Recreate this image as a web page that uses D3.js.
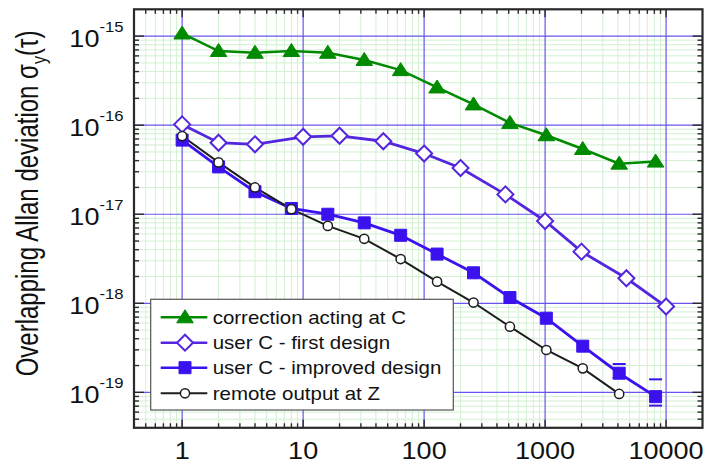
<!DOCTYPE html>
<html><head><meta charset="utf-8">
<script src="https://cdn.jsdelivr.net/npm/d3@7"></script>
<style>body{margin:0;background:#fff} svg{display:block}</style>
</head><body><svg id="c" width="705" height="464"></svg>
<script>
// ---- data ----
const tauPow2 = [1,2,4,8,16,32,64,128,256,512,1024,2048,4096,8192];
const correctionC = [1.07e-15,6.8e-16,6.5e-16,6.8e-16,6.5e-16,5.4e-16,4.15e-16,2.65e-16,1.71e-16,1.06e-16,7.7e-17,5.4e-17,3.7e-17,3.9e-17];
const tauFirst = [1,2,4,10,20,46,100,200,470,1000,2000,4700,10000];
const userCFirst = [1.02e-16,6.35e-17,6.1e-17,7.4e-17,7.6e-17,6.6e-17,4.8e-17,3.3e-17,1.67e-17,8.4e-18,3.8e-18,1.91e-18,9.2e-19];
const userCImproved = [6.8e-17,3.4e-17,1.79e-17,1.16e-17,1.0e-17,8.0e-18,5.8e-18,3.57e-18,2.2e-18,1.16e-18,6.8e-19,3.3e-19,1.64e-19,8.95e-20];
const tauRemote = [1,2,4,8,16,32,64,128,256,512,1024,2048,4096];
const remoteZ = [7.55e-17,3.82e-17,2.0e-17,1.14e-17,7.4e-18,5.3e-18,3.14e-18,1.75e-18,1.02e-18,5.46e-19,2.99e-19,1.86e-19,9.6e-20];
const errTau = [4096,8192];
const errHigh = [2.08e-19,1.4e-19];
const errLow = [1.45e-19,7.1e-20];
const xTickLabels = ["1","10","100","1000","10000"];
const xTickValues = [1,10,100,1000,10000];
const yTickExps = ["-15","-16","-17","-18","-19"];
const yTickValues = [1e-15,1e-16,1e-17,1e-18,1e-19];
const legendLabels = ["correction acting at C","user C - first design","user C - improved design","remote output at Z"];

// ---- layout ----
const svg = d3.select("#c");
const L = 134, R = 702.5, T = 9.3, B = 427.8;
const x = d3.scaleLog().domain([0.4, 20000]).range([L, R]);
const y = d3.scaleLog().domain([4e-20, 2e-15]).range([B, T]);

const GREEN = "#008a00", BLUE = "#3b12ee", DIAM = "#5426de", BLACK = "#1e1e1e";

// minor grid
function minors(lo, hi){
  const out = [];
  for (let e = -21; e <= 5; e++) for (let k = 2; k <= 9; k++){
    const v = k * Math.pow(10, e);
    if (v > lo*1.0001 && v < hi*0.9999) out.push(v);
  }
  return out;
}
const xMinor = minors(0.4, 20000), yMinor = minors(4e-20, 2e-15);
const g = svg.append("g");
g.selectAll(".vm").data(xMinor).join("line")
  .attr("x1", d=>x(d)).attr("x2", d=>x(d)).attr("y1", T).attr("y2", B)
  .attr("stroke", "#d2f0d2").attr("stroke-width", 1);
g.selectAll(".hm").data(yMinor).join("line")
  .attr("y1", d=>y(d)).attr("y2", d=>y(d)).attr("x1", L).attr("x2", R)
  .attr("stroke", "#d2f0d2").attr("stroke-width", 1);
g.selectAll(".vM").data(xTickValues).join("line")
  .attr("x1", d=>x(d)).attr("x2", d=>x(d)).attr("y1", T).attr("y2", B)
  .attr("stroke", "#6656ee").attr("stroke-width", 1.2);
g.selectAll(".hM").data(yTickValues).join("line")
  .attr("y1", d=>y(d)).attr("y2", d=>y(d)).attr("x1", L).attr("x2", R)
  .attr("stroke", "#6656ee").attr("stroke-width", 1.2);

// series lines
const line = (xs) => d3.line().x((d,i)=>x(xs[i])).y(d=>y(d));
svg.append("path").datum(correctionC).attr("d", line(tauPow2))
  .attr("fill","none").attr("stroke",GREEN).attr("stroke-width",2.5);
svg.append("path").datum(userCFirst).attr("d", line(tauFirst))
  .attr("fill","none").attr("stroke",DIAM).attr("stroke-width",2.8);
svg.append("path").datum(userCImproved).attr("d", line(tauPow2))
  .attr("fill","none").attr("stroke",BLUE).attr("stroke-width",2.8);
svg.append("path").datum(remoteZ).attr("d", line(tauRemote))
  .attr("fill","none").attr("stroke",BLACK).attr("stroke-width",2);

// error bar caps
errTau.forEach((t,i)=>{
  [errHigh[i], errLow[i]].forEach(v=>{
    svg.append("line").attr("x1", x(t)-6.5).attr("x2", x(t)+6.5)
      .attr("y1", y(v)).attr("y2", y(v)).attr("stroke", BLUE).attr("stroke-width", 2);
  });
});

// markers
const tri = "M0,-7.5L8.3,5.5L-8.3,5.5Z";
const dia = "M0,-8L8,0L0,8L-8,0Z";
const sq = "M-6,-6L6,-6L6,6L-6,6Z";
function markers(xs, ys, path, fill, stroke, sw){
  svg.append("g").selectAll("path").data(ys).join("path")
    .attr("d", path).attr("transform", (d,i)=>`translate(${x(xs[i])},${y(d)})`)
    .attr("fill", fill).attr("stroke", stroke).attr("stroke-width", sw);
}
markers(tauPow2, correctionC, tri, GREEN, GREEN, 1);
markers(tauFirst, userCFirst, dia, "#fff", DIAM, 2);
markers(tauPow2, userCImproved, sq, BLUE, BLUE, 1);
svg.append("g").selectAll("circle").data(remoteZ).join("circle")
  .attr("cx", (d,i)=>x(tauRemote[i])).attr("cy", d=>y(d)).attr("r", 4.6)
  .attr("fill","#fff").attr("stroke", BLACK).attr("stroke-width", 1.5);

// frame
svg.append("rect").attr("x", L).attr("y", T).attr("width", R-L).attr("height", B-T)
  .attr("fill","none").attr("stroke","#2a2a2a").attr("stroke-width",2.2);

// ticks
const ticks = svg.append("g").attr("stroke","#2a2a2a").attr("stroke-width",1.4);
[[xTickValues,8],[xMinor,4.5]].forEach(([vals,len])=>{
  vals.forEach(v=>{
    ticks.append("line").attr("x1",x(v)).attr("x2",x(v)).attr("y1",B).attr("y2",B-len);
    ticks.append("line").attr("x1",x(v)).attr("x2",x(v)).attr("y1",T).attr("y2",T+len);
  });
});
[[yTickValues,10],[yMinor,5]].forEach(([vals,len])=>{
  vals.forEach(v=>{
    ticks.append("line").attr("y1",y(v)).attr("y2",y(v)).attr("x1",L).attr("x2",L+len);
    ticks.append("line").attr("y1",y(v)).attr("y2",y(v)).attr("x1",R).attr("x2",R-len);
  });
});

const FONT = "'Liberation Sans', Arial, sans-serif";
// x labels
xTickValues.forEach((v,i)=>{
  svg.append("g").attr("transform",`translate(${x(v)},459) scale(1.15,1)`)
    .append("text").attr("text-anchor","middle").attr("font-family",FONT)
    .attr("font-size",23.5).attr("fill","#111").text(xTickLabels[i]);
});
// y labels
yTickValues.forEach((v,i)=>{
  const t = svg.append("g").attr("transform",`translate(123.5,${y(v)+10.5}) scale(1.15,1)`)
    .append("text").attr("text-anchor","end").attr("font-family",FONT)
    .attr("font-size",23.5).attr("fill","#111");
  t.append("tspan").text("10");
  t.append("tspan").attr("dy",-15).attr("font-size",14.5).text(yTickExps[i]);
});
// y title
const yt = svg.append("g").attr("transform",`translate(38,203.5) scale(1.3,1) rotate(-90)`)
  .append("text").attr("text-anchor","middle").attr("font-family",FONT)
  .attr("font-size",24).attr("fill","#111");
yt.append("tspan").text("Overlapping Allan deviation σ");
yt.append("tspan").attr("dy",6).attr("font-size",16).text("y");
yt.append("tspan").attr("dy",-6).text("(τ)");

// legend
const lg = svg.append("g");
lg.append("rect").attr("x",150.7).attr("y",299.3).attr("width",302.6).attr("height",110.7)
  .attr("fill","#fff").attr("stroke","#555").attr("stroke-width",1.2);
const rows = [317.3, 342.7, 367.7, 393.3];
const lcol = [GREEN, DIAM, BLUE, BLACK];
legendLabels.forEach((lab,i)=>{
  const ry = rows[i];
  lg.append("line").attr("x1",160.7).attr("x2",207.3).attr("y1",ry).attr("y2",ry)
    .attr("stroke",lcol[i]).attr("stroke-width", i===3?2:2.6);
  const mx = 185;
  if (i===0) lg.append("path").attr("d",tri).attr("transform",`translate(${mx},${ry})`).attr("fill",GREEN).attr("stroke",GREEN);
  if (i===1) lg.append("path").attr("d",dia).attr("transform",`translate(${mx},${ry})`).attr("fill","#fff").attr("stroke",DIAM).attr("stroke-width",2);
  if (i===2) lg.append("path").attr("d",sq).attr("transform",`translate(${mx},${ry})`).attr("fill",BLUE).attr("stroke",BLUE);
  if (i===3) lg.append("circle").attr("cx",mx).attr("cy",ry).attr("r",4.6).attr("fill","#fff").attr("stroke",BLACK).attr("stroke-width",1.5);
  lg.append("g").attr("transform",`translate(212.7,${ry+6.5}) scale(1.15,1)`)
    .append("text").attr("font-family",FONT).attr("font-size",17.8).attr("fill","#111").text(lab);
});
</script></body></html>
